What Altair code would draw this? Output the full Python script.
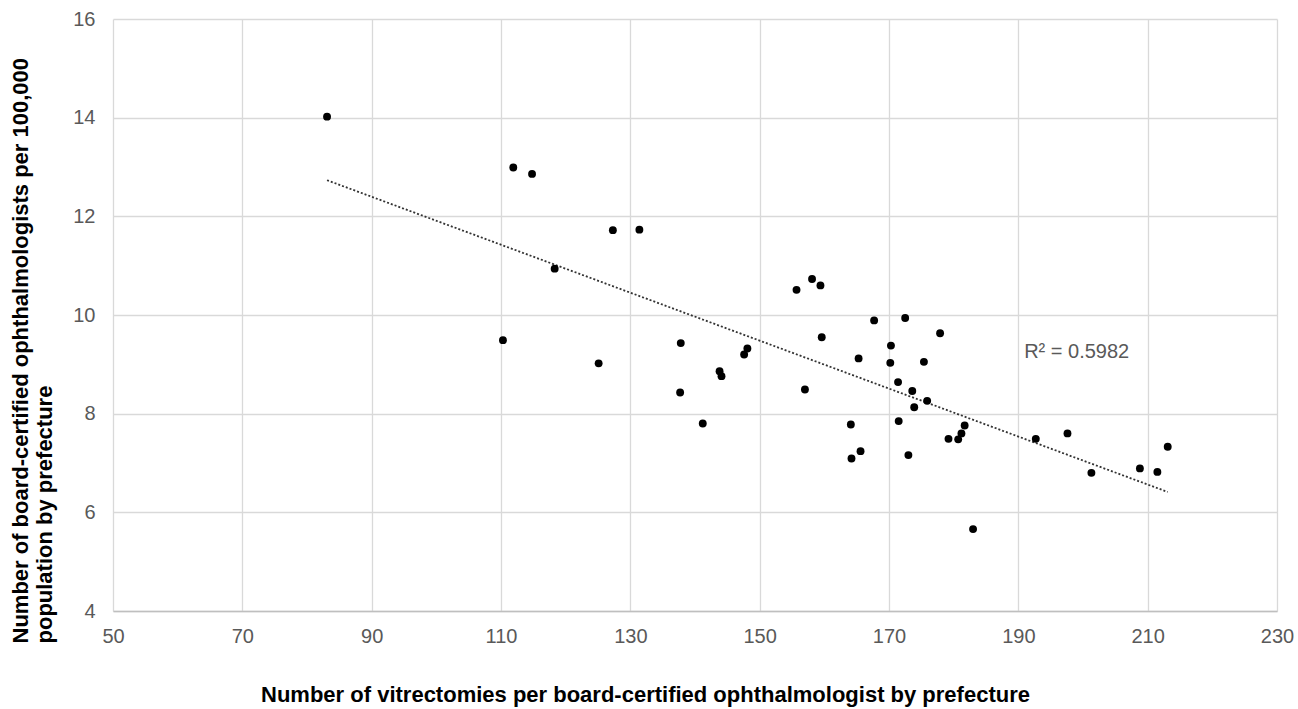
import altair as alt
import pandas as pd

# Vitrectomies per board-certified ophthalmologist, one value per prefecture
vitrectomies = [
    83.1, 111.9, 114.8, 127.3, 131.4, 118.3, 110.3, 125.1, 137.8, 137.7,
    141.2, 143.8, 144.1, 147.6, 148.1, 155.7, 158.1, 159.4, 159.6, 157.0,
    165.3, 164.1, 165.6, 164.2, 167.7, 172.5, 177.9, 170.3, 170.2, 175.4,
    171.4, 173.6, 175.9, 173.9, 171.5, 173.0, 181.7, 181.2, 179.2, 180.7,
    183.0, 192.7, 197.6, 201.3, 208.8, 211.5, 213.1,
]

# Board-certified ophthalmologists per 100,000 population, same order
ophthalmologists = [
    14.02, 12.99, 12.86, 11.72, 11.73, 10.94, 9.49, 9.02, 9.43, 8.43,
    7.80, 8.86, 8.76, 9.20, 9.32, 10.51, 10.73, 10.60, 9.55, 8.49,
    9.12, 7.78, 7.24, 7.09, 9.89, 9.94, 9.63, 9.38, 9.03, 9.05,
    8.64, 8.46, 8.26, 8.13, 7.85, 7.16, 7.76, 7.60, 7.49, 7.48,
    5.66, 7.49, 7.60, 6.80, 6.89, 6.82, 7.33,
]

r2_label = "R\u00b2 = 0.5982"
r2_pos = {"x": [190.9], "y": [9.13]}

x_ticks = list(range(50, 231, 20))
y_ticks = list(range(4, 17, 2))

df = pd.DataFrame({"x": vitrectomies, "y": ophthalmologists})
label_df = pd.DataFrame({"x": r2_pos["x"], "y": r2_pos["y"], "t": [r2_label]})

FONT = "Liberation Sans"

x_enc = alt.X(
    "x:Q",
    scale=alt.Scale(domain=[50, 230], nice=False, zero=False),
    axis=alt.Axis(
        values=x_ticks,
        title="Number of vitrectomies per board-certified ophthalmologist by prefecture",
        titleFont=FONT, titleFontSize=22, titleFontWeight="bold", titleColor="#000000",
        titleX=532, titleY=90, titleAlign="center", titleBaseline="alphabetic",
        titleAnchor="start",
        labelFont=FONT, labelFontSize=20, labelColor="#595959",
        labelPadding=15, labelFlush=False, labelOverlap=False,
        ticks=False, tickSize=0,
        domain=True, domainColor="#bfbfbf", domainWidth=1.3,
        grid=True, gridColor="#d9d9d9", gridWidth=1.3,
    ),
)

y_enc = alt.Y(
    "y:Q",
    scale=alt.Scale(domain=[4, 16], nice=False, zero=False),
    axis=alt.Axis(
        values=y_ticks,
        title=["Number of board-certified ophthalmologists per 100,000",
               "population by prefecture"],
        titleFont=FONT, titleFontSize=22, titleFontWeight="bold", titleColor="#000000",
        titleAngle=270, titleAlign="left", titleBaseline="alphabetic",
        titleX=-86, titleY=624, titleLineHeight=24, titleAnchor="start",
        labelFont=FONT, labelFontSize=20, labelColor="#595959",
        labelPadding=18, labelFlush=False, labelOverlap=False,
        ticks=False, tickSize=0, domain=False,
        grid=True, gridColor="#d9d9d9", gridWidth=1.3,
    ),
)

points = alt.Chart(df).mark_circle(size=62, color="#000000", opacity=1).encode(
    x=x_enc, y=y_enc
)

trend = (
    alt.Chart(df)
    .transform_regression("x", "y")
    .mark_line(color="#333333", strokeWidth=1.8, strokeDash=[2, 2])
    .encode(x="x:Q", y="y:Q")
)

r2_text = alt.Chart(label_df).mark_text(
    align="left", baseline="alphabetic", font=FONT, fontSize=20, color="#595959"
).encode(x="x:Q", y="y:Q", text="t:N")

chart = (
    alt.layer(trend, points, r2_text)
    .properties(
        width=1164,
        height=592,
        autosize=alt.AutoSizeParams(type="none"),
        padding={"left": 113, "top": 19, "right": 21, "bottom": 98},
        background="#ffffff",
    )
    .configure_view(stroke=None)
)

chart.save("out.html", embed_options={"renderer": "svg", "actions": False})
